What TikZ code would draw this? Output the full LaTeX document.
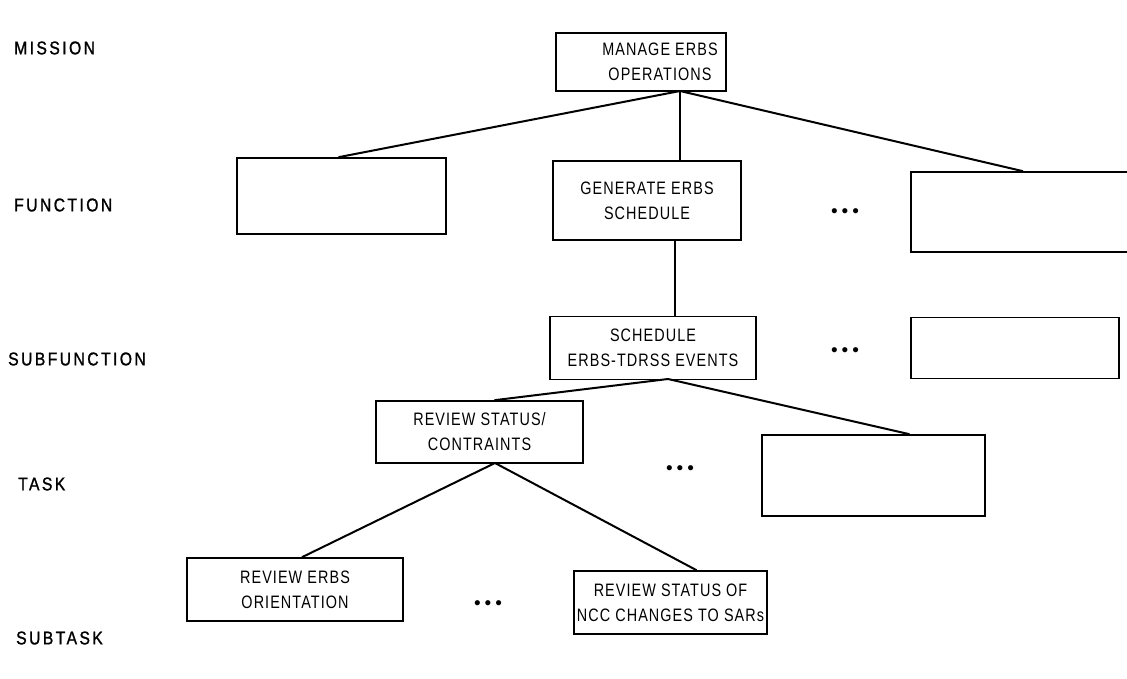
\documentclass[tikz,border=0pt]{standalone}
\usepackage{fontspec}
\setmainfont{Liberation Sans}
\newfontfamily\boxfont[FakeStretch=0.8,LetterSpace=6]{Liberation Sans}
\newfontfamily\lvlfont[FakeStretch=0.85,LetterSpace=13,FakeBold=1.2]{Liberation Sans}
\newcommand{\threedots}{\fontsize{19}{19}\selectfont •\hspace{4pt}•\hspace{4pt}•}
\begin{document}
\begin{tikzpicture}[x=1pt,y=-1pt,
  box/.style={draw,line width=1.6pt,inner sep=0pt,align=center,font=\boxfont\fontsize{18}{25}\selectfont},
  lvl/.style={anchor=west,inner sep=0pt,font=\lvlfont\fontsize{18.5}{20}\selectfont},
  conn/.style={line width=2pt},
  dots/.style={inner sep=0pt}]
\useasboundingbox (0,0) rectangle (1127,679);
% level labels
\node[lvl] (lmission) at (14,48) {MISSION};
\node[lvl] (lfunction) at (14,205) {FUNCTION};
\node[lvl] (lsubfunction) at (8,359) {SUBFUNCTION};
\node[lvl] (ltask) at (18,484) {TASK};
\node[lvl] (lsubtask) at (16,638) {SUBTASK};
% boxes
\node[box,minimum width=170pt,minimum height=58pt] (mission) at (641,62) {};
\node[box,draw=none,anchor=center] (missiontext) at (660,62) {MANAGE ERBS\\OPERATIONS};
\node[box,minimum width=209pt,minimum height=76pt] (fl) at (341.5,196) {};
\node[box,minimum width=188pt,minimum height=79pt] (fm) at (647,200.5) {GENERATE ERBS\\SCHEDULE};
\node[box,minimum width=220pt,minimum height=80pt] (fr) at (1021,212) {};
\node[box,minimum width=206pt,minimum height=63pt] (sm) at (653,348) {SCHEDULE\\ERBS-TDRSS EVENTS};
\node[box,minimum width=208pt,minimum height=61pt] (sr) at (1015,348) {};
\node[box,minimum width=207pt,minimum height=62pt] (tl) at (479.5,432) {REVIEW STATUS/\\CONTRAINTS};
\node[box,minimum width=223pt,minimum height=81pt] (tr) at (873.5,475.5) {};
\node[box,minimum width=216pt,minimum height=63pt] (stl) at (295,589.5) {REVIEW ERBS\\ORIENTATION};
\node[box,minimum width=193pt,minimum height=63pt] (str) at (670.5,602.5) {REVIEW STATUS OF\\NCC CHANGES TO SARs};
% dots
\node[dots] (d1) at (845,213) {\threedots};
\node[dots] (d2) at (845,352) {\threedots};
\node[dots] (d3) at (680,470) {\threedots};
\node[dots] (d4) at (488,605) {\threedots};
% connector anchors
\coordinate (a1) at (680,91);
\coordinate (a2) at (675,240);
\coordinate (a3) at (668,379);
\coordinate (a4) at (495,463);
% connectors
\draw[conn] (a1) -- ([xshift=-3pt]fl.north);
\draw[conn] (a1) -- (a1 |- fm.north);
\draw[conn] (a1) -- ([xshift=2pt]fr.north);
\draw[conn] (a2) -- (a2 |- sm.north);
\draw[conn] (a3) -- ([xshift=15pt]tl.north);
\draw[conn] (a3) -- ([xshift=36pt]tr.north);
\draw[conn] (a4) -- ([xshift=7pt]stl.north);
\draw[conn] (a4) -- ([xshift=26pt]str.north);
\end{tikzpicture}
\end{document}
